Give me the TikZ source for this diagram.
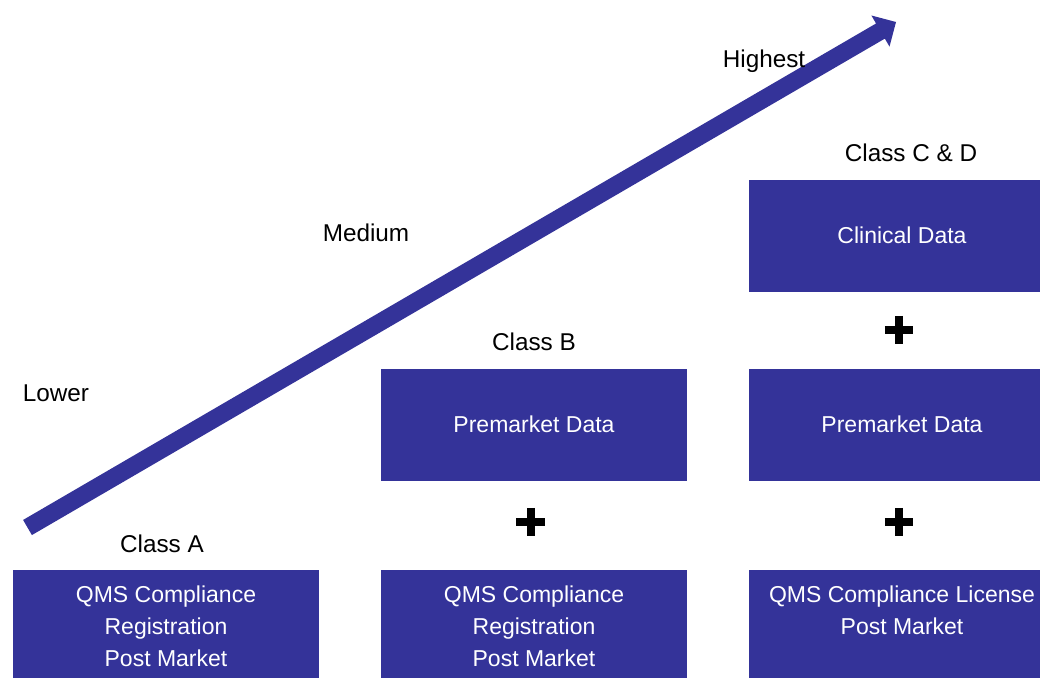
\documentclass[tikz,border=0pt]{standalone}
\usepackage{fontspec}
\setmainfont{Liberation Sans}
\usetikzlibrary{calc}
\definecolor{boxblue}{HTML}{343399}
\begin{document}
\begin{tikzpicture}[x=1pt,y=-1pt,
  classbox/.style={draw=none, fill=boxblue, minimum width=306pt, minimum height=112pt, inner sep=0pt, anchor=north west},
  boxtext/.style={text=white, font=\fontsize{23}{32}\selectfont, align=center, inner sep=0pt},
  lbl/.style={text=black, font=\fontsize{24.3}{29}\selectfont, inner sep=0pt, anchor=base},
  plusmark/.style={draw=none, inner sep=0pt, minimum size=28pt},
  plusbar/.style={line width=8pt, draw=black},
  ]
\path[use as bounding box, clip] (0,0) rectangle (1040,677);

% rising arrow
\coordinate (tail) at (27.5,527.5);
\coordinate (tip) at (896,22);
\coordinate (hbase) at ($(tip)!18pt!(tail)$);
\fill[boxblue] ($(tail)!8.75pt!90:(tip)$) -- ($(hbase)!8.75pt!90:(tip)$)
  -- ($(hbase)!18pt!90:(tip)$) -- (tip) -- ($(hbase)!18pt!-90:(tip)$)
  -- ($(hbase)!8.75pt!-90:(tip)$) -- ($(tail)!8.75pt!-90:(tip)$) -- cycle;

% level labels
\node[lbl] (highest) at (764,67) {Highest};
\node[lbl] (medium) at (366,241.7) {Medium};
\node[lbl] (lower) at (56,401.7) {Lower};

% class headings
\node[lbl] (classA) at (162,552) {Class A};
\node[lbl] (classB) at (534,350) {Class B};
\node[lbl] (classCD) at (911,161.7) {Class C \& D};

% boxes
\node[classbox] (qmsA) at (13,570) {};
\node[classbox] (qmsB) at (381,570) {};
\node[classbox] (qmsC) at (749,570) {};
\node[classbox] (preB) at (381,369) {};
\node[classbox] (preC) at (749,369) {};
\node[classbox] (clin) at (749,180) {};

\node[boxtext, anchor=north] (qmsAtxt) at (166,585.2) {QMS Compliance\\Registration\\Post Market};
\node[boxtext, anchor=north] (qmsBtxt) at (534,585.2) {QMS Compliance\\Registration\\Post Market};
\node[boxtext, anchor=north] (qmsCtxt) at (902,585.2) {QMS Compliance License\\Post Market};
\node[boxtext, anchor=base] (preBtxt) at (534,432.3) {Premarket Data};
\node[boxtext, anchor=base] (preCtxt) at (902,432.3) {Premarket Data};
\node[boxtext, anchor=base] (clintxt) at (902,243.3) {Clinical Data};

% plus signs
\node[plusmark] (plusB) at (530.5,522) {};
\node[plusmark] (plusC1) at (899,522) {};
\node[plusmark] (plusC2) at (899,330) {};
\foreach \p in {plusB,plusC1,plusC2}
  \draw[plusbar] (\p.west) -- (\p.east) (\p.north) -- (\p.south);
\end{tikzpicture}
\end{document}
